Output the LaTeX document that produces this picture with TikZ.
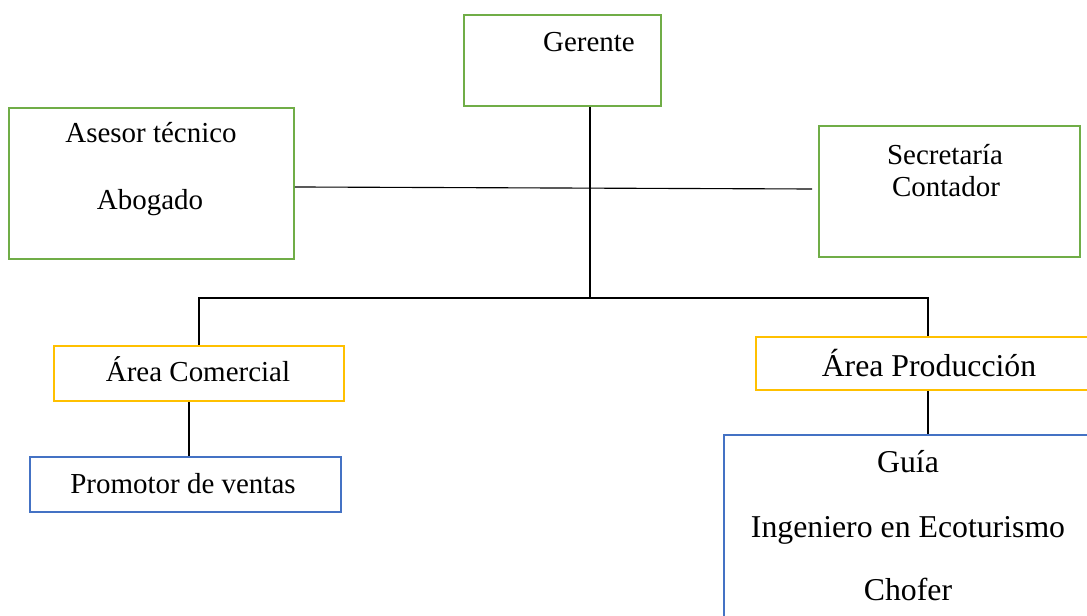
\documentclass[tikz,border=0pt]{standalone}
\usepackage{fontspec}
\setmainfont{Liberation Serif}
\usetikzlibrary{calc}

\definecolor{verdeorg}{RGB}{112,173,71}
\definecolor{amarorg}{RGB}{255,192,0}
\definecolor{azulorg}{RGB}{68,114,196}

\begin{document}
\begin{tikzpicture}[x=0.025cm,y=-0.025cm]

\def\pxu{0.025cm}

\tikzset{caja/.style={draw, rectangle, line width=1.4pt, inner sep=0pt, anchor=north west},
         verde/.style={caja, draw=verdeorg},
         amarilla/.style={caja, draw=amarorg},
         azul/.style={caja, draw=azulorg},
         texto/.style={anchor=base, inner sep=0pt, font=\fontsize{20.6}{24}\selectfont},
         textog/.style={texto, font=\fontsize{22.6}{26}\selectfont},
         linea/.style={black, line width=0.8pt}}

\useasboundingbox (0,0) rectangle (1087,616);
\clip (0,0) rectangle (1087,616);

% cajas
\node[verde, minimum width=197*\pxu, minimum height=91*\pxu] (ger) at (463,14) {};
\node[verde, minimum width=285*\pxu, minimum height=151*\pxu] (ases) at (8,107) {};
\node[verde, minimum width=261*\pxu, minimum height=131*\pxu] (secr) at (818,125) {};
\node[amarilla, minimum width=290*\pxu, minimum height=55*\pxu] (acom) at (53,345) {};
\node[azul, minimum width=311*\pxu, minimum height=55*\pxu] (prom) at (29,456) {};
\node[amarilla, minimum width=344*\pxu, minimum height=53*\pxu] (aprod) at (755,336) {};
\node[azul, minimum width=400*\pxu, minimum height=250*\pxu] (prod) at (723,434) {};

% textos
\node[texto] (tger) at (589,52) {Gerente};
\node[texto] (tases1) at (151,143) {Asesor técnico};
\node[texto] (tases2) at (150,210) {Abogado};
\node[texto] (tsecr1) at (945,165) {Secretaría};
\node[texto] (tsecr2) at (946,197) {Contador};
\node[texto] (tacom) at (198,382) {Área Comercial};
\node[texto] (tprom) at (183,493) {Promotor de ventas};
\node[textog] (taprod) at (929,377) {Área Producción};
\node[textog] (tprod1) at (908,473) {Guía};
\node[textog] (tprod2) at (908,537) {Ingeniero en Ecoturismo};
\node[textog] (tprod3) at (908,600) {Chofer};

% conexiones
\coordinate (tronco) at (590,298);
\coordinate (finsec) at (812,189);
\draw[linea] (ger.south -| tronco) -- (tronco);
\draw[linea] ($(ases.east)+(0,3.5)$) -- (finsec);
\draw[linea] (tronco) -| (acom.north);
\draw[linea] (tronco) -| (aprod.north);
\draw[linea] ($(acom.south)+(-10,0)$) coordinate (bajada) -- (bajada |- prom.north);
\draw[linea] (aprod.south) -- (aprod.south |- prod.north);

\end{tikzpicture}
\end{document}
